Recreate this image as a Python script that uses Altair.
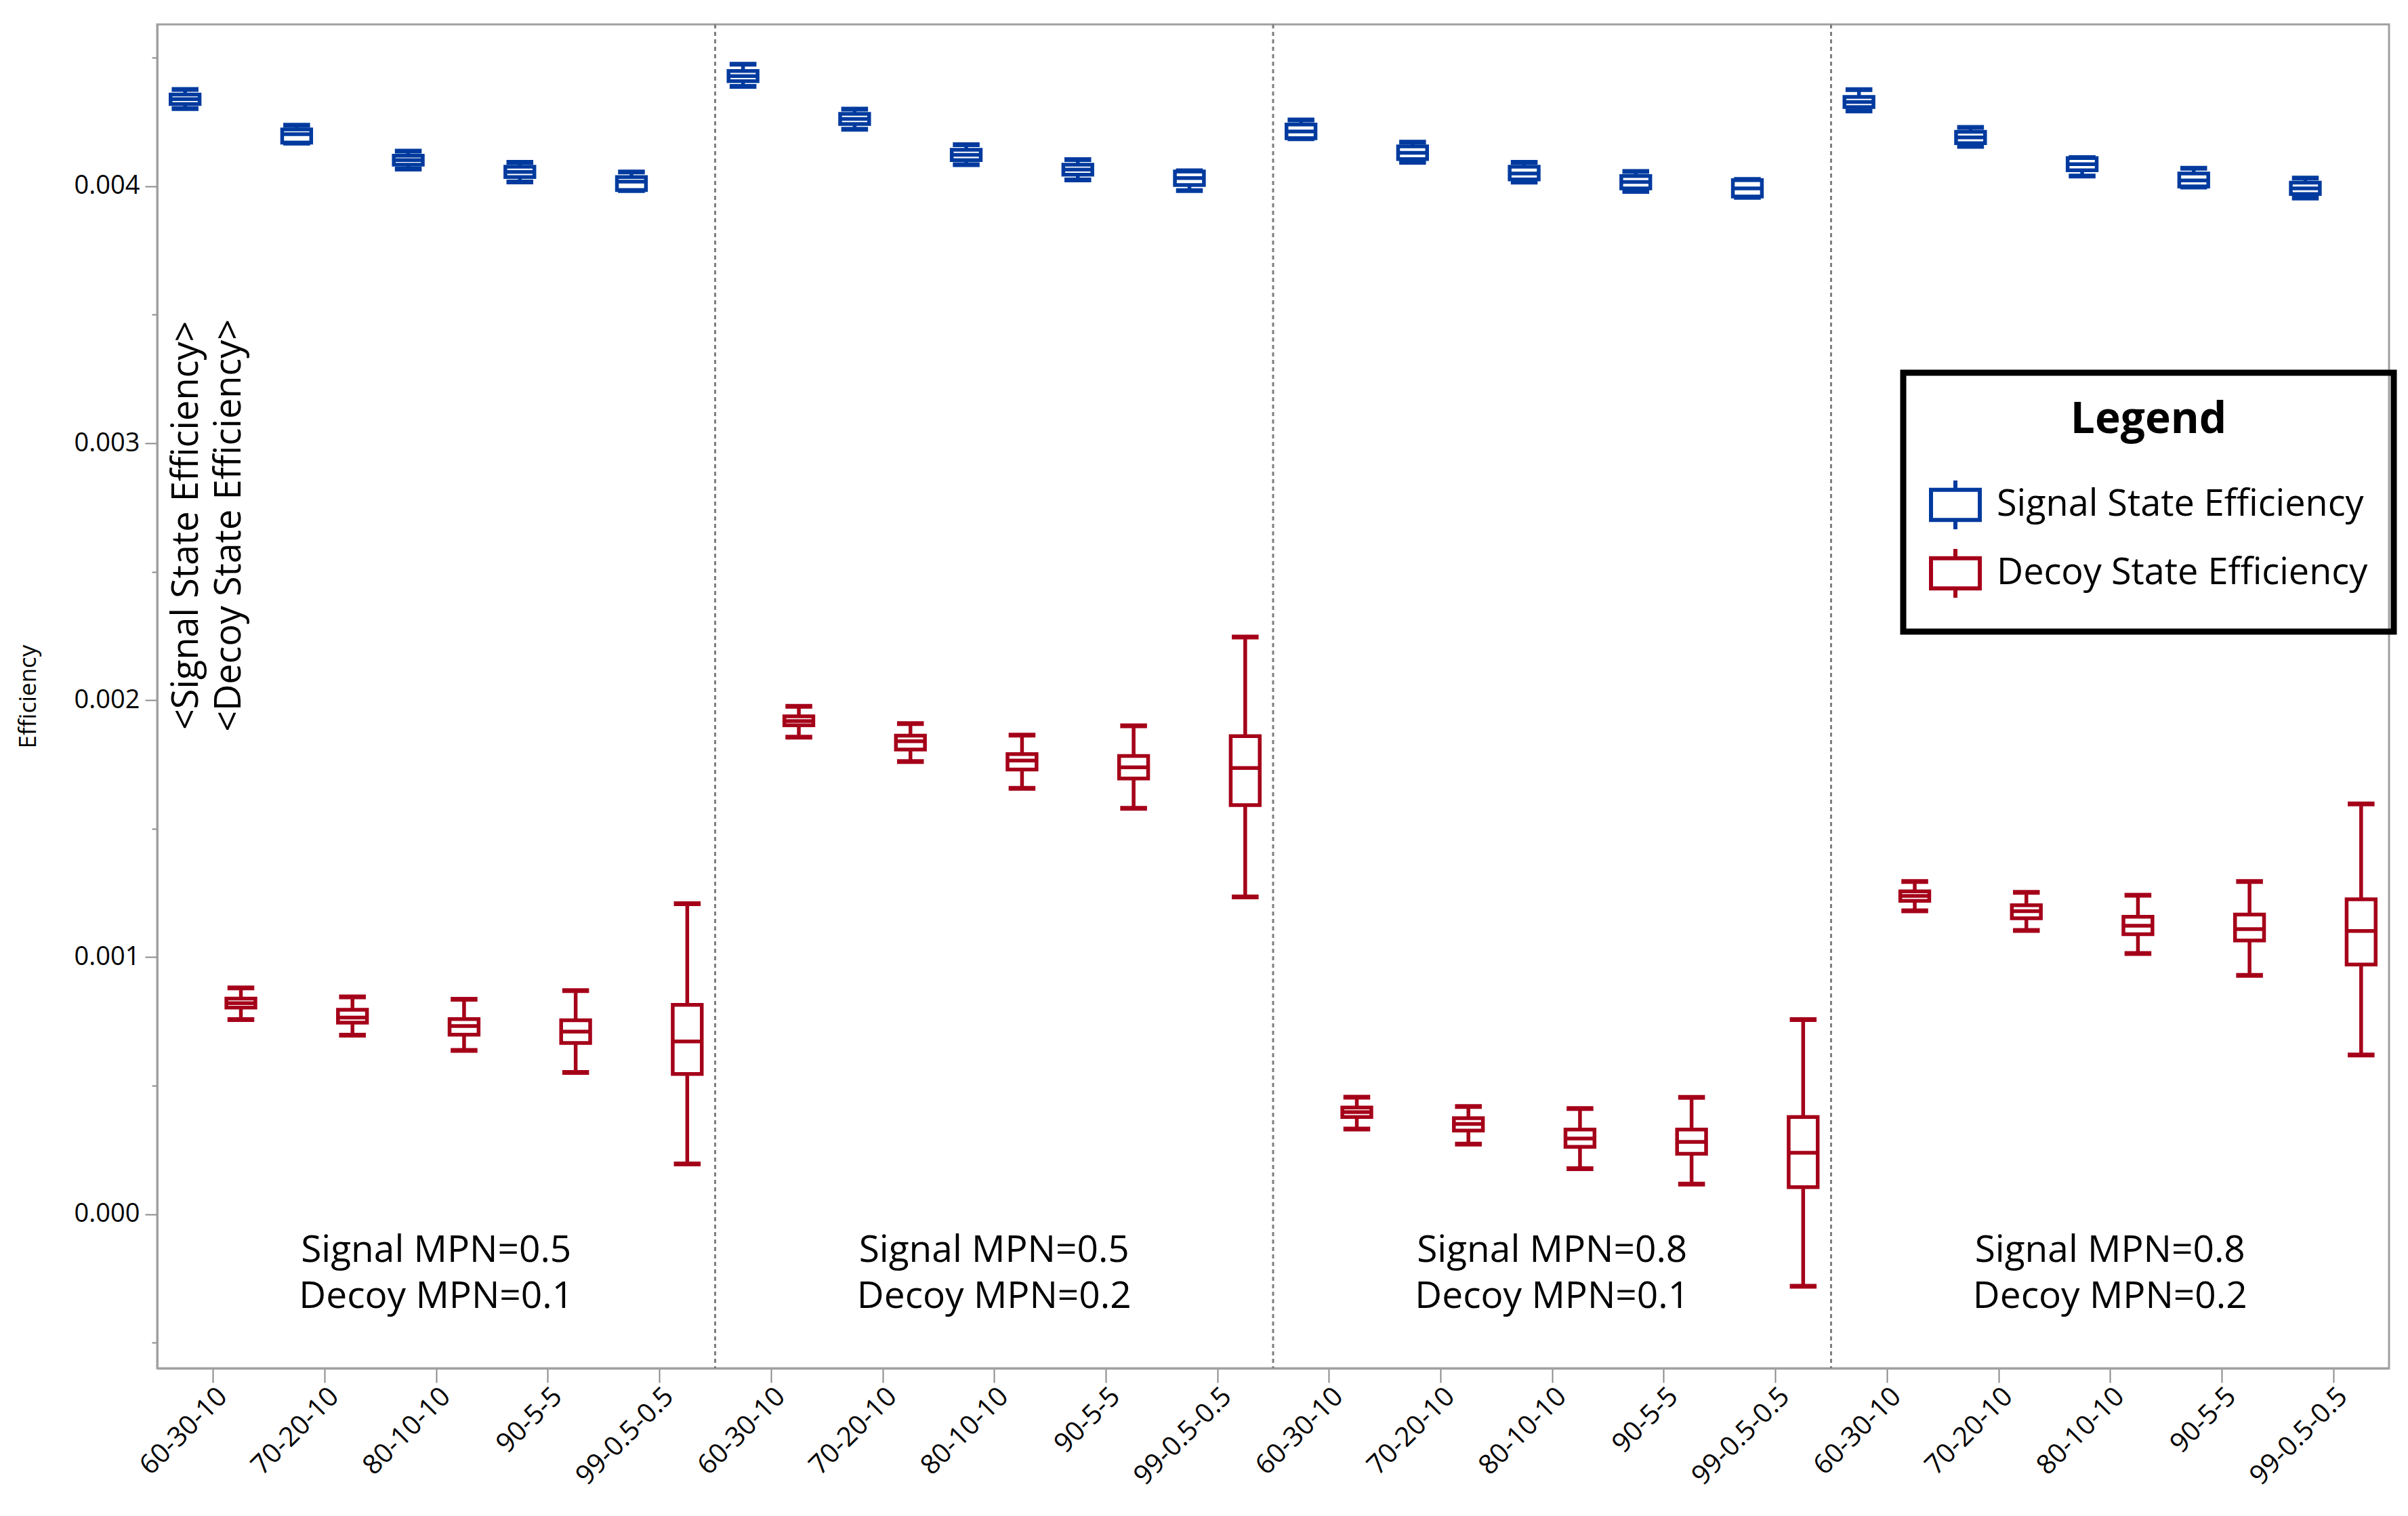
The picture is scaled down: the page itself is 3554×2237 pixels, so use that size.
import json
import altair as alt
import pandas as pd

# x categories (fraction split) repeated in each MPN setting panel
ratios = ["60-30-10", "70-20-10", "80-10-10", "90-5-5", "99-0.5-0.5"]
signal_mpn = ["Signal MPN=0.5", "Signal MPN=0.5", "Signal MPN=0.8", "Signal MPN=0.8"]
decoy_mpn = ["Decoy MPN=0.1", "Decoy MPN=0.2", "Decoy MPN=0.1", "Decoy MPN=0.2"]
series_names = ["Signal State Efficiency", "Decoy State Efficiency"]
colors = ["#003a9e", "#a50019"]

# box statistics, 20 groups (4 panels x 5 ratios)
signal_low = [0.004302, 0.004168, 0.004067, 0.004017, 0.003983,
              0.004389, 0.004222, 0.004084, 0.004025, 0.003983,
              0.004185, 0.004093, 0.004016, 0.003980, 0.003957,
              0.004293, 0.004155, 0.004040, 0.003997, 0.003954]
signal_q1 = [0.004320, 0.004170, 0.004084, 0.004036, 0.003985,
             0.004409, 0.004242, 0.004102, 0.004045, 0.004005,
             0.004187, 0.004106, 0.004027, 0.003992, 0.003960,
             0.004308, 0.004168, 0.004062, 0.003999, 0.003970]
signal_med = [0.004339, 0.004203, 0.004102, 0.004056, 0.004018,
              0.004429, 0.004262, 0.004122, 0.004065, 0.004032,
              0.004213, 0.004130, 0.004050, 0.004017, 0.003992,
              0.004328, 0.004190, 0.004086, 0.004023, 0.003992]
signal_q3 = [0.004357, 0.004221, 0.004119, 0.004076, 0.004036,
             0.004449, 0.004282, 0.004142, 0.004084, 0.004058,
             0.004240, 0.004155, 0.004076, 0.004040, 0.004024,
             0.004348, 0.004212, 0.004110, 0.004050, 0.004014]
signal_high = [0.004377, 0.004238, 0.004137, 0.004093, 0.004056,
               0.004475, 0.004300, 0.004162, 0.004104, 0.004060,
               0.004258, 0.004172, 0.004093, 0.004058, 0.004027,
               0.004376, 0.004229, 0.004112, 0.004070, 0.004032]

decoy_low = [0.000757, 0.000696, 0.000637, 0.000551, 0.000195,
             0.001856, 0.001761, 0.001657, 0.001579, 0.001234,
             0.000331, 0.000272, 0.000177, 0.000117, -0.000281,
             0.001180, 0.001104, 0.001014, 0.000929, 0.000619]
decoy_q1 = [0.000804, 0.000745, 0.000698, 0.000666, 0.000545,
            0.001902, 0.001808, 0.001730, 0.001695, 0.001592,
            0.000378, 0.000325, 0.000262, 0.000235, 0.000105,
            0.001219, 0.001151, 0.001089, 0.001065, 0.000971]
decoy_med = [0.000821, 0.000765, 0.000732, 0.000710, 0.000672,
             0.001919, 0.001840, 0.001765, 0.001739, 0.001736,
             0.000397, 0.000351, 0.000294, 0.000281, 0.000239,
             0.001238, 0.001179, 0.001122, 0.001109, 0.001102]
decoy_q3 = [0.000839, 0.000795, 0.000759, 0.000754, 0.000814,
            0.001937, 0.001862, 0.001790, 0.001783, 0.001860,
            0.000415, 0.000373, 0.000329, 0.000329, 0.000378,
            0.001256, 0.001202, 0.001157, 0.001166, 0.001225]
decoy_high = [0.000880, 0.000845, 0.000836, 0.000870, 0.001208,
              0.001976, 0.001909, 0.001864, 0.001900, 0.002246,
              0.000455, 0.000419, 0.000411, 0.000454, 0.000757,
              0.001294, 0.001252, 0.001241, 0.001294, 0.001596]

stats = {
    series_names[0]: (signal_low, signal_q1, signal_med, signal_q3, signal_high),
    series_names[1]: (decoy_low, decoy_q1, decoy_med, decoy_q3, decoy_high),
}
offsets = {series_names[0]: -0.25, series_names[1]: 0.25}

rows = []
for name, (lo, q1, med, q3, hi) in stats.items():
    for i in range(20):
        pos = i + offsets[name]
        rows.append({"series": name, "pos": pos,
                     "box_l": pos - 0.13, "box_r": pos + 0.13,
                     "cap_l": pos - 0.12, "cap_r": pos + 0.12,
                     "low": lo[i], "q1": q1[i], "med": med[i], "q3": q3[i], "high": hi[i]})
df = pd.DataFrame(rows)

dividers = pd.DataFrame({"x": [4.5, 9.5, 14.5]})
panel_labels = pd.DataFrame({"x": [2, 7, 12, 17], "y": [-0.00014] * 4,
                             "label": [s + "\n" + d for s, d in zip(signal_mpn, decoy_mpn)]})
side_label = pd.DataFrame({"x": [-0.23], "y": [0.00268],
                           "label": ["<" + series_names[0] + ">\n<" + series_names[1] + ">"]})

FONT = "Open Sans"
label_expr = json.dumps(ratios) + "[datum.value % 5]"
minor = "abs(datum.value * 1000 - round(datum.value * 1000)) > 0.1"

xscale = alt.Scale(domain=[-0.5, 19.5], nice=False, zero=False)
yscale = alt.Scale(domain=[-0.0006, 0.00463], nice=False, zero=False)
xaxis = alt.Axis(values=list(range(20)), labelExpr=label_expr, labelAngle=-45,
                 labelAlign="right", labelBaseline="top", labelFontSize=40,
                 labelLimit=0, tickSize=21, labelPadding=0, grid=False)
yaxis = alt.Axis(values=[v / 10000 for v in range(-5, 50, 5)],
                 labelExpr=minor + " ? '' : format(datum.value, '.3f')",
                 tickSize={"condition": {"test": minor, "value": 8}, "value": 18},
                 labelFontSize=38, labelPadding=8, titlePadding=50, titleFontSize=35,
                 titleFontWeight="normal", grid=False)


def X(field):
    return alt.X(field, type="quantitative", scale=xscale, axis=xaxis, title=None)


def Y(field):
    return alt.Y(field, type="quantitative", scale=yscale, axis=yaxis, title="Efficiency")


legend = alt.Legend(title="Legend", orient="none", legendX=2577, legendY=514,
                    symbolType="M-1,-0.62H1V0.62H-1Z M0,-0.62V-1 M0,0.62V1",
                    symbolSize=5184, symbolStrokeWidth=6, labelFontSize=54,
                    titleFontSize=64, titleFontWeight="bold", titleAnchor="middle",
                    titleLimit=0, rowPadding=5, titlePadding=54, labelOffset=22, padding=38,
                    strokeColor="black", labelLimit=0)
color = alt.Color("series:N", scale=alt.Scale(domain=series_names, range=colors), legend=legend)

base = alt.Chart(df)

div_layer = alt.Chart(dividers).mark_rule(strokeDash=[6, 5], strokeWidth=3, color="#7f7f7f").encode(
    x=X("x"))
whisk_lo = base.mark_rule(strokeWidth=5.5).encode(x=X("pos"), y=Y("low"), y2="q1", color=color)
whisk_hi = base.mark_rule(strokeWidth=5.5).encode(x=X("pos"), y=Y("q3"), y2="high", color=color)
cap_lo = base.mark_rule(strokeWidth=7).encode(x=X("cap_l"), x2="cap_r", y=Y("low"), color=color)
cap_hi = base.mark_rule(strokeWidth=7).encode(x=X("cap_l"), x2="cap_r", y=Y("high"), color=color)
box = base.mark_rect(filled=False, strokeWidth=5.5).encode(
    x=X("box_l"), x2="box_r", y=Y("q1"), y2="q3", color=color)
median = base.mark_rule(strokeWidth=5.5).encode(x=X("box_l"), x2="box_r", y=Y("med"), color=color)

panel_text = alt.Chart(panel_labels).mark_text(
    font=FONT, fontSize=55, lineBreak="\n", lineHeight=68, baseline="middle", color="black").encode(
    x=X("x"), y=Y("y"), text="label:N")
side_text = alt.Chart(side_label).mark_text(
    font=FONT, fontSize=54, lineBreak="\n", lineHeight=63, angle=270, baseline="middle",
    color="black").encode(x=X("x"), y=Y("y"), text="label:N")

chart = alt.layer(div_layer, whisk_lo, whisk_hi, cap_lo, cap_hi, box, median,
                  panel_text, side_text).properties(
    width=3294, height=1983,
    padding={"left": 16, "top": 26, "right": 5, "bottom": 5},
).configure_view(
    stroke="#a0a0a0", strokeWidth=3
).configure_axis(
    labelFont=FONT, titleFont=FONT, labelColor="black", titleColor="black",
    domainColor="#a0a0a0", domainWidth=3, tickColor="#8a8a8a", tickWidth=2
).configure_legend(
    labelFont=FONT, titleFont=FONT, labelColor="black", titleColor="black", strokeWidth=9
)

chart.save("out.html", embed_options={"renderer": "svg", "actions": False})
